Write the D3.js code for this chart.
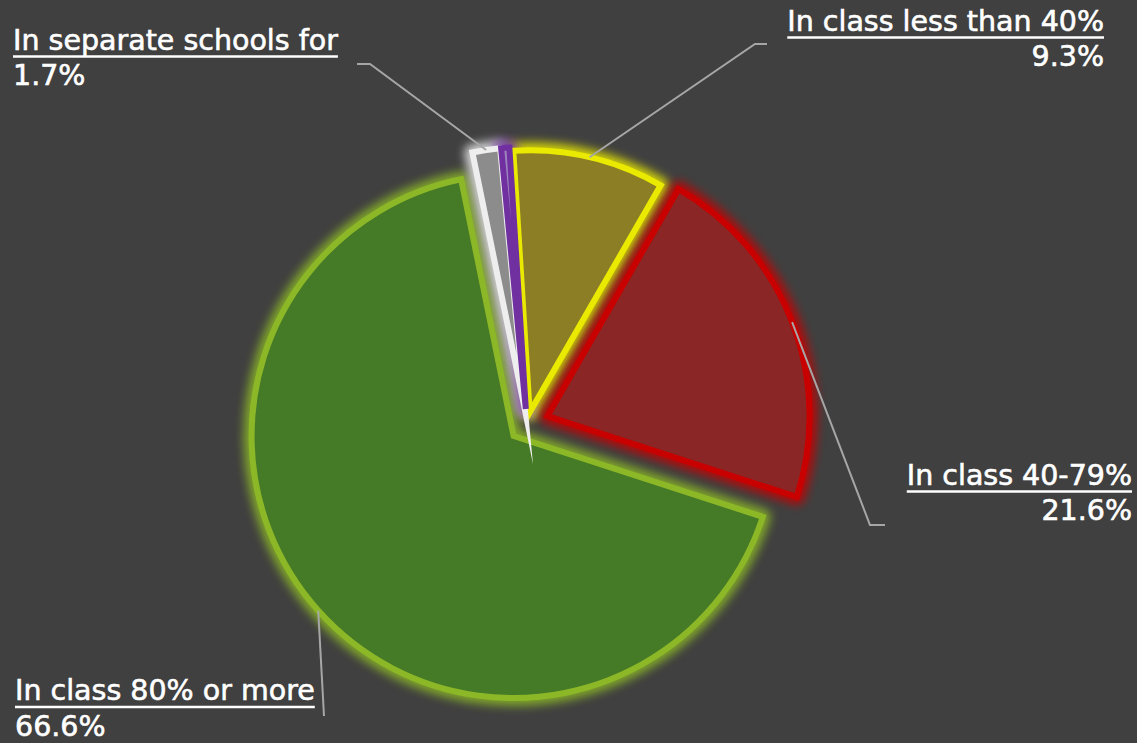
<!DOCTYPE html>
<html>
<head>
<meta charset="utf-8">
<script src="https://cdn.jsdelivr.net/npm/d3@7"></script>
<style>
 html, body { margin: 0; padding: 0; background: #404040; }
 svg { display: block; }
 text { font-family: "DejaVu Sans", sans-serif; fill: #ffffff; stroke: #ffffff; stroke-width: 0.6px; }
</style>
</head>
<body>
<svg id="chart"></svg>
<script>
// categories and shares (percent) in drawing order, clockwise from the top
categories = ["In class less than 40%", "In class 40-79%", "In class 80% or more", "In separate schools for", "Other"];
shares = [9.3, 21.6, 66.6, 1.7, 0.5];
valueLabels = ["9.3%", "21.6%", "66.6%", "1.7%", ""];

// look of each slice
fills = ["#8b7e24", "#8a2626", "#457a26", "#8c8c8c", "#9c84bc"];
strokes = ["#eaea00", "#c80000", "#8cb828", "#eeeeee", "#7030a0"];
pull = [12, 22, 18, 15, 15]; // explode distance

// where each label sits and how its leader line bends
labelLayout = [
 { x: 1104, y: 30.5, anchor: "end", elbow: [755, 44], end: [767, 44] },
 { x: 1132, y: 484.5, anchor: "end", elbow: [870, 525], end: [885, 525] },
 { x: 15, y: 700, anchor: "start", elbow: [324, 716], end: [324, 716] },
 { x: 13, y: 49.5, anchor: "start", elbow: [370, 64], end: [357, 64] },
 null
];

function drawChart() {
 let width = 1137;
 let height = 743;
 let cx = 527;
 let cy = 424;
 let radius = 262;
 let start = -3.6 * Math.PI / 180;

 let svg = d3.select("#chart")
 .attr("width", width)
 .attr("height", height);

 svg.selectAll("*").remove();

 svg.append("rect")
 .attr("width", width)
 .attr("height", height)
 .attr("fill", "#404040");

 // soft glow around every slice
 let defs = svg.append("defs");
 defs.append("filter")
 .attr("id", "glow")
 .attr("filterUnits", "userSpaceOnUse")
 .attr("x", -width).attr("y", -height)
 .attr("width", 3 * width).attr("height", 3 * height)
 .append("feGaussianBlur")
 .attr("stdDeviation", 5);

 let pie = d3.pie()
 .sort(null)
 .value(d => d)
 .startAngle(start)
 .endAngle(start + 2 * Math.PI);

 let arcs = pie(shares);

 let arc = d3.arc()
 .innerRadius(0)
 .outerRadius(radius);

 // arc used to find the point on the rim at the middle of a slice
 let rimArc = d3.arc()
 .innerRadius(radius)
 .outerRadius(radius);

 function offset(d, i) {
 let mid = (d.startAngle + d.endAngle) / 2;
 return [cx + Math.sin(mid) * pull[i], cy - Math.cos(mid) * pull[i]];
 }

 let g = svg.append("g");

 // glows first so the slices sit on top
 g.selectAll(".glow")
 .data(arcs)
 .enter()
 .append("path")
 .attr("class", "glow")
 .attr("d", arc)
 .attr("transform", (d, i) => `translate(${offset(d, i)})`)
 .attr("fill", "none")
 .attr("stroke", (d, i) => strokes[i])
 .attr("stroke-width", 16)
 .attr("stroke-linejoin", "round")
 .attr("opacity", 0.85)
 .attr("filter", "url(#glow)");

 g.selectAll(".slice")
 .data(arcs)
 .enter()
 .append("path")
 .attr("class", "slice")
 .attr("d", arc)
 .attr("transform", (d, i) => `translate(${offset(d, i)})`)
 .attr("fill", (d, i) => fills[i])
 .attr("stroke", (d, i) => strokes[i])
 .attr("stroke-width", 6)
 .attr("stroke-linejoin", "miter")
 .attr("stroke-miterlimit", 20);

 // leader lines
 arcs.forEach(function(d, i) {
 let lay = labelLayout[i];
 if (!lay) return;
 let o = offset(d, i);
 let c = rimArc.centroid(d);
 let pts = [[o[0] + c[0], o[1] + c[1]], lay.elbow, lay.end];
 svg.append("path")
 .attr("d", d3.line()(pts))
 .attr("fill", "none")
 .attr("stroke", "#a6a6a6")
 .attr("stroke-width", 2);
 });

 // labels with underlined category name
 arcs.forEach(function(d, i) {
 let lay = labelLayout[i];
 if (!lay) return;
 let title = svg.append("text")
 .attr("x", lay.x)
 .attr("y", lay.y)
 .attr("text-anchor", lay.anchor)
 .style("font-size", "28.5px")
 .text(categories[i]);

 let w = title.node().getComputedTextLength();
 let x0 = lay.anchor == "end" ? lay.x - w : lay.x;
 svg.append("line")
 .attr("x1", x0)
 .attr("x2", x0 + w)
 .attr("y1", lay.y + 7)
 .attr("y2", lay.y + 7)
 .attr("stroke", "#ffffff")
 .attr("stroke-width", 2.6);

 svg.append("text")
 .attr("x", lay.x)
 .attr("y", lay.y + 35.5)
 .attr("text-anchor", lay.anchor)
 .style("font-size", "28.5px")
 .text(valueLabels[i]);
 });
}

drawChart();
</script>
</body>
</html>
